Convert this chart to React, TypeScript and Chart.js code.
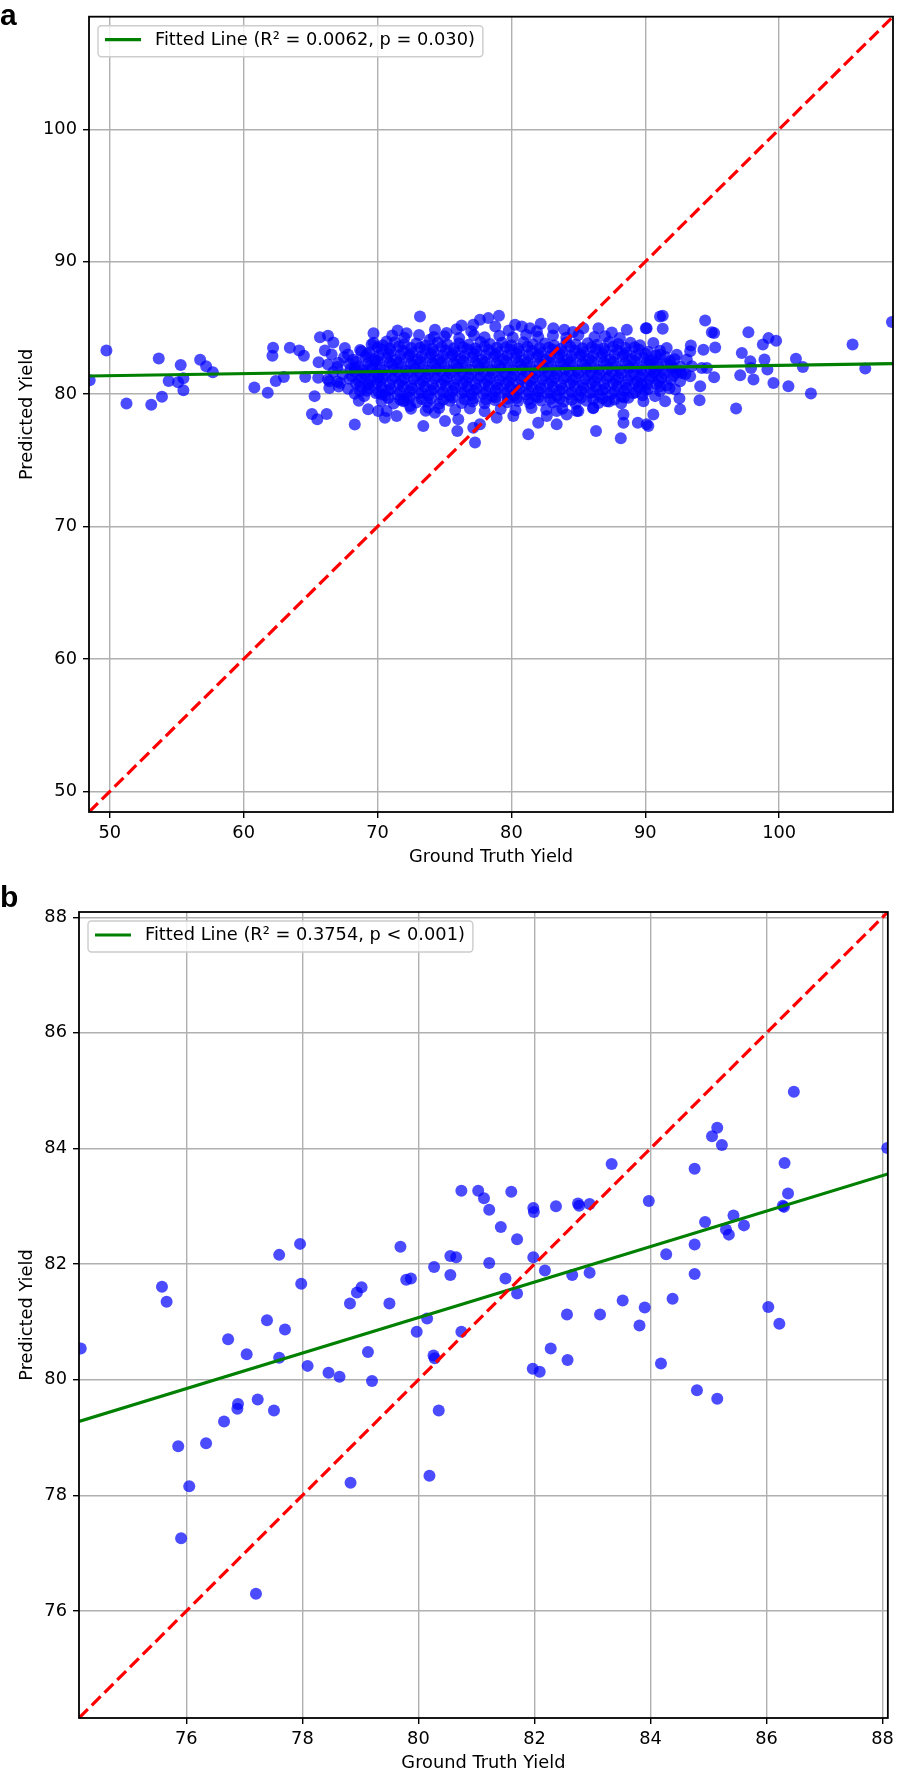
import { useEffect, useRef } from "react";
import { Chart, registerables, Plugin } from "chart.js";

Chart.register(...registerables);

const FONT = '"DejaVu Sans", "Noto Sans", sans-serif';
const FONT_PX = 17.8;

type Pt = [number, number];

// ---------- panel a ----------
const rangeA: [number, number] = [48.45, 108.5];
const ticksA = [50, 60, 70, 80, 90, 100];
const fitA: Pt[] = [[48.45, 81.37], [108.5, 82.31]];
const legendA = "Fitted Line (R² = 0.0062, p = 0.030)";

// sparse points on the left tail
const leftA: Pt[] = [
  [48.5, 81.05], [49.75, 83.3], [51.25, 79.3], [53.66, 82.7], [53.1, 79.2], [53.9, 79.8],
  [54.4, 81.0], [55.3, 82.2], [55.1, 80.9], [55.5, 81.2], [55.5, 80.3], [56.75, 82.6],
  [57.2, 82.1], [57.7, 81.65], [60.8, 80.5], [61.8, 80.1], [62.2, 83.5], [62.15, 82.9],
  [62.4, 81.0], [63.0, 81.3], [63.45, 83.5], [64.15, 83.3], [64.5, 82.9], [64.6, 81.3],
  [65.3, 79.85], [65.1, 78.5], [65.5, 78.1], [66.2, 78.5], [65.7, 84.3], [66.3, 84.4],
  [66.7, 83.9], [65.6, 82.4], [68.3, 77.7], [68.6, 79.5], [69.3, 78.85], [69.7, 84.6],
  [66.07, 83.3], [66.57, 83.0], [67.07, 82.35], [66.4, 80.98], [66.4, 80.47], [67.2, 80.85],
  [67.56, 83.48], [67.8, 83.0], [65.57, 81.23], [68.3, 81.98], [68.8, 83.23], [69.06, 81.48],
  [69.3, 80.73], [69.56, 83.74], [69.8, 82.48], [70.05, 81.23], [68.68, 80.23], [70.3, 79.98],
  [70.55, 78.22], [70.05, 78.72],
];

// the dense middle of the cloud
const coreA: Pt[] = [
  [71.1, 84.42], [72.0, 84.25], [73.1, 84.47], [74.2, 84.31], [75.0, 84.37], [76.1, 84.23],
  [77.2, 84.45], [78.0, 84.29], [79.1, 84.4], [80.1, 84.27], [81.1, 84.49], [82.0, 84.33],
  [83.1, 84.43], [84.1, 84.25], [85.0, 84.47], [86.2, 84.31], [87.0, 84.37], [88.1, 84.23],
  [69.7, 83.88], [70.4, 83.7], [71.3, 83.92], [72.0, 83.76], [72.9, 83.82], [73.6, 83.68],
  [74.5, 83.9], [75.2, 83.74], [76.1, 83.85], [76.8, 83.72], [77.7, 83.94], [78.4, 83.78],
  [79.3, 83.88], [80.0, 83.7], [80.9, 83.92], [81.6, 83.76], [82.5, 83.82], [83.2, 83.68],
  [84.1, 83.9], [84.8, 83.74], [85.7, 83.85], [86.4, 83.72], [87.3, 83.94], [88.0, 83.78],
  [88.9, 83.88], [89.6, 83.7],
  [68.7, 83.33], [69.4, 83.15], [70.3, 83.37], [71.0, 83.21], [71.9, 83.27], [72.6, 83.13],
  [73.5, 83.35], [74.2, 83.19], [75.1, 83.3], [75.8, 83.17], [76.7, 83.39], [77.4, 83.23],
  [78.3, 83.33], [79.0, 83.15], [79.9, 83.37], [80.6, 83.21], [81.5, 83.27], [82.2, 83.13],
  [83.1, 83.35], [83.8, 83.19], [84.7, 83.3], [85.4, 83.17], [86.3, 83.39], [87.0, 83.23],
  [87.9, 83.33], [88.6, 83.15], [89.5, 83.37], [90.2, 83.21], [91.1, 83.27],
  [67.5, 82.78], [68.2, 82.6], [69.1, 82.82], [69.8, 82.66], [70.7, 82.72], [71.4, 82.58],
  [72.3, 82.8], [73.0, 82.64], [73.9, 82.75], [74.6, 82.62], [75.5, 82.84], [76.2, 82.68],
  [77.1, 82.78], [77.8, 82.6], [78.7, 82.82], [79.4, 82.66], [80.3, 82.72], [81.0, 82.58],
  [81.9, 82.8], [82.6, 82.64], [83.5, 82.75], [84.2, 82.62], [85.1, 82.84], [85.8, 82.68],
  [86.7, 82.78], [87.4, 82.6], [88.3, 82.82], [89.0, 82.66], [89.9, 82.72], [90.6, 82.58],
  [91.5, 82.8], [92.2, 82.64],
  [66.3, 82.23], [67.0, 82.05], [67.9, 82.27], [68.6, 82.11], [69.5, 82.17], [70.2, 82.03],
  [71.1, 82.25], [71.8, 82.09], [72.7, 82.2], [73.4, 82.07], [74.3, 82.29], [75.0, 82.13],
  [75.9, 82.23], [76.6, 82.05], [77.5, 82.27], [78.2, 82.11], [79.1, 82.17], [79.8, 82.03],
  [80.7, 82.25], [81.4, 82.09], [82.3, 82.2], [83.0, 82.07], [83.9, 82.29], [84.6, 82.13],
  [85.5, 82.23], [86.2, 82.05], [87.1, 82.27], [87.8, 82.11], [88.7, 82.17], [89.4, 82.03],
  [90.3, 82.25], [91.0, 82.09], [91.9, 82.2], [92.6, 82.07],
  [66.7, 81.68], [67.4, 81.5], [68.3, 81.72], [69.0, 81.56], [69.9, 81.62], [70.6, 81.48],
  [71.5, 81.7], [72.2, 81.54], [73.1, 81.65], [73.8, 81.52], [74.7, 81.74], [75.4, 81.58],
  [76.3, 81.68], [77.0, 81.5], [77.9, 81.72], [78.6, 81.56], [79.5, 81.62], [80.2, 81.48],
  [81.1, 81.7], [81.8, 81.54], [82.7, 81.65], [83.4, 81.52], [84.3, 81.74], [85.0, 81.58],
  [85.9, 81.68], [86.6, 81.5], [87.5, 81.72], [88.2, 81.56], [89.1, 81.62], [89.8, 81.48],
  [90.7, 81.7], [91.4, 81.54], [92.3, 81.65], [93.0, 81.52],
  [66.3, 81.13], [67.0, 80.95], [67.9, 81.17], [68.6, 81.01], [69.5, 81.07], [70.2, 80.93],
  [71.1, 81.15], [71.8, 80.99], [72.7, 81.1], [73.4, 80.97], [74.3, 81.19], [75.0, 81.03],
  [75.9, 81.13], [76.6, 80.95], [77.5, 81.17], [78.2, 81.01], [79.1, 81.07], [79.8, 80.93],
  [80.7, 81.15], [81.4, 80.99], [82.3, 81.1], [83.0, 80.97], [83.9, 81.19], [84.6, 81.03],
  [85.5, 81.13], [86.2, 80.95], [87.1, 81.17], [87.8, 81.01], [88.7, 81.07], [89.4, 80.93],
  [90.3, 81.15], [91.0, 80.99], [91.9, 81.1], [92.6, 80.97],
  [67.1, 80.58], [67.8, 80.4], [68.7, 80.62], [69.4, 80.46], [70.3, 80.52], [71.0, 80.38],
  [71.9, 80.6], [72.6, 80.44], [73.5, 80.55], [74.2, 80.42], [75.1, 80.64], [75.8, 80.48],
  [76.7, 80.58], [77.4, 80.4], [78.3, 80.62], [79.0, 80.46], [79.9, 80.52], [80.6, 80.38],
  [81.5, 80.6], [82.2, 80.44], [83.1, 80.55], [83.8, 80.42], [84.7, 80.64], [85.4, 80.48],
  [86.3, 80.58], [87.0, 80.4], [87.9, 80.62], [88.6, 80.46], [89.5, 80.52], [90.2, 80.38],
  [91.1, 80.6], [91.8, 80.44],
  [68.3, 80.03], [69.0, 79.85], [69.9, 80.07], [70.6, 79.91], [71.5, 79.97], [72.2, 79.83],
  [73.1, 80.05], [73.8, 79.89], [74.7, 80.0], [75.4, 79.87], [76.3, 80.09], [77.0, 79.93],
  [77.9, 80.03], [78.6, 79.85], [79.5, 80.07], [80.2, 79.91], [81.1, 79.97], [81.8, 79.83],
  [82.7, 80.05], [83.4, 79.89], [84.3, 80.0], [85.0, 79.87], [85.9, 80.09], [86.6, 79.93],
  [87.5, 80.03], [88.2, 79.85], [89.1, 80.07], [89.8, 79.91],
  [70.3, 79.48], [71.2, 79.3], [72.0, 79.52], [72.9, 79.36], [73.7, 79.42], [74.6, 79.28],
  [75.4, 79.5], [76.3, 79.34], [77.1, 79.45], [78.0, 79.32], [78.8, 79.54], [79.7, 79.38],
  [80.5, 79.48], [81.4, 79.3], [82.2, 79.52], [83.1, 79.36], [83.9, 79.42], [84.8, 79.28],
  [85.6, 79.5], [86.5, 79.34], [87.3, 79.45], [88.2, 79.32],
  [72.5, 78.9], [73.6, 78.75], [74.6, 78.95], [75.8, 78.8], [76.9, 78.92], [78.0, 78.7],
  [79.2, 78.88], [80.3, 78.78], [81.5, 78.95], [82.6, 78.82], [83.8, 78.9], [85.0, 78.72],
  [86.1, 78.94],
];

// more points packed between the rows above, where the cloud is solid
const coreFillA: Pt[] = [
  [70.0, 83.55], [70.9, 83.45], [71.6, 83.6], [72.5, 83.48], [73.2, 83.52], [74.1, 83.42],
  [74.8, 83.58], [75.7, 83.46], [76.4, 83.54], [77.3, 83.44], [78.0, 83.6], [78.9, 83.5],
  [79.6, 83.55], [80.5, 83.45], [81.2, 83.6], [82.1, 83.48], [82.8, 83.52], [83.7, 83.42],
  [84.4, 83.58], [85.3, 83.46], [86.0, 83.54], [86.9, 83.44], [87.6, 83.6], [88.5, 83.5],
  [89.2, 83.55],
  [69.2, 83.0], [70.1, 82.9], [70.8, 83.05], [71.7, 82.93], [72.4, 82.97], [73.3, 82.87],
  [74.0, 83.03], [74.9, 82.91], [75.6, 82.99], [76.5, 82.89], [77.2, 83.05], [78.1, 82.95],
  [78.8, 83.0], [79.7, 82.9], [80.4, 83.05], [81.3, 82.93], [82.0, 82.97], [82.9, 82.87],
  [83.6, 83.03], [84.5, 82.91], [85.2, 82.99], [86.1, 82.89], [86.8, 83.05], [87.7, 82.95],
  [88.4, 83.0], [89.3, 82.9], [90.0, 83.05], [90.8, 82.93],
  [68.4, 82.45], [69.3, 82.35], [70.0, 82.5], [70.9, 82.38], [71.6, 82.42], [72.5, 82.32],
  [73.2, 82.48], [74.1, 82.36], [74.8, 82.44], [75.7, 82.34], [76.4, 82.5], [77.3, 82.4],
  [78.0, 82.45], [78.9, 82.35], [79.6, 82.5], [80.5, 82.38], [81.2, 82.42], [82.1, 82.32],
  [82.8, 82.48], [83.7, 82.36], [84.4, 82.44], [85.3, 82.34], [86.0, 82.5], [86.9, 82.4],
  [87.6, 82.45], [88.5, 82.35], [89.2, 82.5], [90.1, 82.38], [90.8, 82.42], [91.6, 82.32],
  [68.0, 81.9], [68.9, 81.8], [69.6, 81.95], [70.5, 81.83], [71.2, 81.87], [72.1, 81.77],
  [72.8, 81.93], [73.7, 81.81], [74.4, 81.89], [75.3, 81.79], [76.0, 81.95], [76.9, 81.85],
  [77.6, 81.9], [78.5, 81.8], [79.2, 81.95], [80.1, 81.83], [80.8, 81.87], [81.7, 81.77],
  [82.4, 81.93], [83.3, 81.81], [84.0, 81.89], [84.9, 81.79], [85.6, 81.95], [86.5, 81.85],
  [87.2, 81.9], [88.1, 81.8], [88.8, 81.95], [89.7, 81.83], [90.4, 81.87], [91.3, 81.77],
  [92.0, 81.93],
  [68.1, 81.35], [68.8, 81.25], [69.7, 81.4], [70.4, 81.28], [71.3, 81.32], [72.0, 81.22],
  [72.9, 81.38], [73.6, 81.26], [74.5, 81.34], [75.2, 81.24], [76.1, 81.4], [76.8, 81.3],
  [77.7, 81.35], [78.4, 81.25], [79.3, 81.4], [80.0, 81.28], [80.9, 81.32], [81.6, 81.22],
  [82.5, 81.38], [83.2, 81.26], [84.1, 81.34], [84.8, 81.24], [85.7, 81.4], [86.4, 81.3],
  [87.3, 81.35], [88.0, 81.25], [88.9, 81.4], [89.6, 81.28], [90.5, 81.32], [91.2, 81.22],
  [92.1, 81.38],
  [68.4, 80.8], [69.3, 80.7], [70.0, 80.85], [70.9, 80.73], [71.6, 80.77], [72.5, 80.67],
  [73.2, 80.83], [74.1, 80.71], [74.8, 80.79], [75.7, 80.69], [76.4, 80.85], [77.3, 80.75],
  [78.0, 80.8], [78.9, 80.7], [79.6, 80.85], [80.5, 80.73], [81.2, 80.77], [82.1, 80.67],
  [82.8, 80.83], [83.7, 80.71], [84.4, 80.79], [85.3, 80.69], [86.0, 80.85], [86.9, 80.75],
  [87.6, 80.8], [88.5, 80.7], [89.2, 80.85], [90.1, 80.73], [90.8, 80.77], [91.6, 80.67],
  [69.2, 80.25], [70.1, 80.15], [70.8, 80.3], [71.7, 80.18], [72.4, 80.22], [73.3, 80.12],
  [74.0, 80.28], [74.9, 80.16], [75.6, 80.24], [76.5, 80.14], [77.2, 80.3], [78.1, 80.2],
  [78.8, 80.25], [79.7, 80.15], [80.4, 80.3], [81.3, 80.18], [82.0, 80.22], [82.9, 80.12],
  [83.6, 80.28], [84.5, 80.16], [85.2, 80.24], [86.1, 80.14], [86.8, 80.3], [87.7, 80.2],
  [88.4, 80.25], [89.3, 80.15], [90.0, 80.3],
  [70.8, 79.7], [71.7, 79.6], [72.4, 79.75], [73.3, 79.63], [74.0, 79.67], [74.9, 79.57],
  [75.6, 79.73], [76.5, 79.61], [77.2, 79.69], [78.1, 79.59], [78.8, 79.75], [79.7, 79.65],
  [80.4, 79.7], [81.3, 79.6], [82.0, 79.75], [82.9, 79.63], [83.6, 79.67], [84.5, 79.57],
  [85.2, 79.73], [86.1, 79.61], [86.8, 79.69], [87.7, 79.59], [88.4, 79.75],
];

// ragged upper and lower edge of the cloud
const rimA: Pt[] = [
  [73.17, 85.86], [74.29, 84.86], [75.16, 84.61], [76.28, 85.19], [77.15, 85.24], [77.65, 85.62],
  [78.27, 85.74], [79.07, 85.92], [80.27, 85.24], [80.77, 85.11], [81.39, 84.98], [82.19, 85.32],
  [83.13, 84.98], [83.95, 84.86], [85.37, 84.98], [86.5, 84.98], [88.62, 84.86], [90.1, 84.98],
  [91.1, 85.86], [70.68, 83.98], [72.17, 84.6], [73.9, 84.11], [71.5, 84.8], [75.9, 84.9],
  [78.8, 85.1], [81.9, 84.75], [84.6, 84.7], [87.5, 84.65], [79.8, 84.8], [77.0, 84.75],
  [70.68, 78.72], [71.43, 78.35], [71.92, 79.47], [72.42, 79.1], [73.42, 77.6], [73.79, 78.97],
  [74.29, 78.6], [75.04, 77.97], [76.03, 78.1], [75.96, 77.22], [77.15, 77.47], [77.28, 76.34],
  [77.65, 77.72], [78.9, 78.22], [80.14, 78.35], [81.26, 76.97], [82.0, 77.84], [82.64, 78.35],
  [83.38, 77.72], [83.38, 78.72], [84.13, 78.47], [84.88, 78.72], [86.32, 77.22], [86.12, 78.97],
  [87.12, 79.47], [88.17, 76.67], [88.37, 78.47], [88.37, 77.84], [89.44, 77.84], [90.1, 77.72],
  [88.74, 79.72],
];

// right tail
const rightA: Pt[] = [
  [91.3, 85.92], [90.04, 84.98], [91.3, 84.94], [94.47, 85.56], [94.97, 84.68], [95.14, 84.61],
  [95.22, 83.53], [94.34, 83.36], [93.4, 83.68], [93.35, 83.23], [92.35, 82.98], [91.6, 83.48],
  [90.6, 83.86], [94.6, 81.98], [95.14, 81.28], [94.1, 80.6], [94.05, 79.53], [92.6, 78.85],
  [92.55, 79.68], [91.48, 79.47], [91.1, 80.23], [90.6, 78.47], [90.23, 77.6], [92.23, 80.35],
  [92.72, 81.6], [93.35, 81.35], [92.1, 81.98], [90.6, 81.6], [89.73, 80.73],
  [97.7, 84.68], [97.21, 83.11], [97.09, 81.43], [98.08, 81.1], [97.84, 82.48], [97.9, 81.98],
  [98.78, 83.74], [99.2, 84.23], [99.77, 84.04], [98.9, 82.61], [99.12, 81.86], [99.57, 80.85],
  [100.69, 80.6], [101.25, 82.68], [101.77, 82.05], [102.37, 80.05], [96.78, 78.92],
  [105.48, 83.74], [106.43, 81.93], [108.42, 85.44],
  [90.36, 82.48], [91.1, 82.98], [91.85, 82.48], [92.6, 81.73], [93.1, 82.61], [93.47, 82.1],
  [94.22, 81.98], [90.73, 79.85], [89.86, 79.47],
];

// ---------- panel b ----------
const rangeB: [number, number] = [74.15, 88.09];
const ticksB = [76, 78, 80, 82, 84, 86, 88];
const fitB: Pt[] = [[74.15, 79.28], [88.09, 83.56]];
const legendB = "Fitted Line (R² = 0.3754, p < 0.001)";

const pointsB: Pt[] = [
  [74.18, 80.54], [75.58, 81.61], [75.66, 81.35], [77.6, 82.16], [77.96, 82.35], [77.98, 81.66],
  [76.72, 80.7], [77.04, 80.44], [77.39, 81.03], [77.7, 80.87], [77.6, 80.38], [78.09, 80.24],
  [78.45, 80.12], [78.64, 80.05], [78.82, 81.32], [78.94, 81.51], [79.02, 81.6], [79.13, 80.48],
  [79.2, 79.98], [76.89, 79.58], [76.88, 79.5], [77.23, 79.66], [77.51, 79.47], [76.65, 79.28],
  [76.34, 78.9], [75.86, 78.85], [76.05, 78.16], [78.83, 78.22], [75.91, 77.26], [77.2, 76.3],
  [80.19, 78.34],
  [79.69, 82.3], [79.79, 81.73], [79.87, 81.75], [79.5, 81.32], [80.27, 81.95], [80.55, 81.81],
  [80.55, 82.14], [80.65, 82.12], [80.15, 81.06], [79.97, 80.83], [80.74, 80.83], [80.26, 80.42],
  [80.28, 80.37], [80.35, 79.47], [80.74, 83.27], [81.03, 83.27], [81.13, 83.14], [81.22, 82.94],
  [81.42, 82.64], [81.6, 83.25], [81.7, 82.43], [81.22, 82.02], [81.5, 81.75], [81.7, 81.49],
  [81.98, 82.12], [81.98, 82.97], [81.99, 82.9], [82.18, 81.89], [82.37, 83.0], [82.75, 83.05],
  [82.77, 83.01], [82.95, 83.04], [83.33, 83.73], [82.65, 81.81], [82.95, 81.85], [82.56, 81.13],
  [83.13, 81.13], [83.52, 81.37], [83.9, 81.25], [83.81, 80.94], [82.28, 80.54], [82.57, 80.34],
  [81.97, 80.19], [82.09, 80.14], [83.97, 83.09],
  [86.47, 84.98], [85.15, 84.36], [85.06, 84.21], [85.23, 84.06], [84.76, 83.65], [86.31, 83.75],
  [88.08, 84.01], [86.37, 83.22], [86.28, 83.01], [86.3, 82.99], [84.94, 82.73], [85.43, 82.84],
  [85.61, 82.67], [85.3, 82.6], [85.35, 82.51], [84.76, 82.34], [84.27, 82.17], [84.76, 81.83],
  [84.38, 81.4], [86.03, 81.26], [86.22, 80.97], [84.18, 80.28], [84.8, 79.82], [85.15, 79.67],
];

const xTitle = "Ground Truth Yield";
const yTitle = "Predicted Yield";

// draws the black box round the plot area
const framePlugin: Plugin = {
  id: "frame",
  afterDraw(chart) {
    const { ctx, chartArea: a } = chart;
    ctx.save();
    ctx.strokeStyle = "#000";
    ctx.lineWidth = 1.8;
    ctx.strokeRect(a.left, a.top, a.right - a.left, a.bottom - a.top);
    ctx.restore();
  },
};

// matplotlib-like legend box inside the upper left corner
const boxLegendPlugin: Plugin = {
  id: "boxLegend",
  afterDatasetsDraw(chart) {
    const ds: any = chart.data.datasets.find((d) => d.label);
    if (!ds) return;
    const { ctx, chartArea } = chart;
    ctx.save();
    ctx.font = `${FONT_PX}px ${FONT}`;
    const tw = ctx.measureText(ds.label).width;
    const x = chartArea.left + 9;
    const y = chartArea.top + 9;
    const w = 57 + tw + 8;
    const h = 31;
    ctx.beginPath();
    ctx.roundRect(x, y, w, h, 3.5);
    ctx.fillStyle = "rgba(255,255,255,0.8)";
    ctx.fill();
    ctx.strokeStyle = "#cccccc";
    ctx.lineWidth = 1.4;
    ctx.stroke();
    ctx.beginPath();
    ctx.moveTo(x + 7, y + 14);
    ctx.lineTo(x + 43, y + 14);
    ctx.strokeStyle = ds.borderColor;
    ctx.lineWidth = ds.borderWidth;
    ctx.stroke();
    ctx.fillStyle = "#000";
    ctx.textBaseline = "middle";
    ctx.textAlign = "left";
    ctx.fillText(ds.label, x + 57, y + 14.8);
    ctx.restore();
  },
};

interface PanelProps {
  top: number;
  height: number;
  points: Pt[];
  fit: Pt[];
  range: [number, number];
  ticks: number[];
  legend: string;
  plotLeft: number;
  plotRight: number;
  plotTop: number;
  plotBottom: number;
  xTitlePad: number;
}

function ScatterPanel(p: PanelProps) {
  const canvasRef = useRef<HTMLCanvasElement>(null);
  const chartRef = useRef<Chart | null>(null);

  useEffect(() => {
    if (!canvasRef.current) return;
    if (chartRef.current) chartRef.current.destroy();

    const font = { family: FONT, size: FONT_PX, lineHeight: 1.2 };
    const [lo, hi] = p.range;
    const grid = {
      color: "#b0b0b0",
      lineWidth: 1.4,
      drawTicks: true,
      tickLength: 6,
      tickColor: "#000",
      tickWidth: 1.4,
    };

    chartRef.current = new Chart(canvasRef.current, {
      type: "scatter",
      data: {
        datasets: [
          {
            data: [{ x: lo, y: lo }, { x: hi, y: hi }],
            showLine: true,
            borderColor: "#ff0000",
            borderWidth: 3.2,
            borderDash: [12.5, 5.5],
            pointRadius: 0,
            order: 0,
            clip: 0,
          },
          {
            label: p.legend,
            data: p.fit.map(([x, y]) => ({ x, y })),
            showLine: true,
            borderColor: "#008000",
            borderWidth: 3.2,
            pointRadius: 0,
            order: 1,
            clip: 0,
          },
          {
            data: p.points.map(([x, y]) => ({ x, y })),
            backgroundColor: "rgba(0,0,255,0.7)",
            pointRadius: 6,
            pointBorderWidth: 0,
            order: 2,
            clip: 0,
          },
        ] as any,
      },
      options: {
        responsive: false,
        animation: false,
        events: [],
        layout: {
          padding: {
            left: 0,
            top: p.plotTop,
            right: 899 - p.plotRight,
            bottom: 0,
          },
        },
        plugins: {
          legend: { display: false },
          tooltip: { enabled: false },
        },
        scales: {
          x: {
            type: "linear",
            min: lo,
            max: hi,
            afterBuildTicks: (s: any) => {
              s.ticks = p.ticks.map((v) => ({ value: v }));
            },
            afterFit: (s: any) => {
              s.height = p.height - p.plotBottom;
            },
            grid,
            border: { display: false },
            ticks: { font, color: "#000", padding: 5, maxRotation: 0, autoSkip: false },
            title: {
              display: true,
              text: xTitle,
              font,
              color: "#000",
              padding: { top: 0, bottom: p.xTitlePad },
            },
          },
          y: {
            type: "linear",
            min: lo,
            max: hi,
            afterBuildTicks: (s: any) => {
              s.ticks = p.ticks.map((v) => ({ value: v }));
            },
            afterFit: (s: any) => {
              s.width = p.plotLeft;
            },
            grid,
            border: { display: false },
            ticks: { font, color: "#000", padding: 6, autoSkip: false },
            title: {
              display: true,
              text: yTitle,
              font,
              color: "#000",
              padding: { top: 16.5, bottom: 0 },
            },
          },
        },
      },
      plugins: [boxLegendPlugin, framePlugin],
    });

    return () => {
      if (chartRef.current) {
        chartRef.current.destroy();
        chartRef.current = null;
      }
    };
  }, []);

  return (
    <canvas
      ref={canvasRef}
      width={899}
      height={p.height}
      style={{ position: "absolute", left: 0, top: p.top, width: 899, height: p.height }}
    ></canvas>
  );
}

const panelLabel = (top: number): React.CSSProperties => ({
  position: "absolute",
  left: 0,
  top,
  fontFamily: '"Liberation Sans", Arial, sans-serif',
  fontWeight: "bold",
  fontSize: 30,
  lineHeight: "30px",
  color: "#000",
});

export default function App() {
  return (
    <div
      style={{
        position: "absolute",
        left: 0,
        top: 0,
        width: 899,
        height: 1775,
        overflow: "hidden",
        background: "#fff",
      }}
    >
      <ScatterPanel
        top={0}
        height={880}
        points={[...leftA, ...coreA, ...coreFillA, ...rimA, ...rightA]}
        fit={fitA}
        range={rangeA}
        ticks={ticksA}
        legend={legendA}
        plotLeft={89}
        plotRight={894}
        plotTop={14}
        plotBottom={812}
        xTitlePad={12.1}
      />
      <ScatterPanel
        top={880}
        height={895}
        points={pointsB}
        fit={fitB}
        range={rangeB}
        ticks={ticksB}
        legend={legendB}
        plotLeft={79}
        plotRight={889}
        plotTop={32}
        plotBottom={838}
        xTitlePad={0.6}
      />
      <div style={panelLabel(0)}>a</div>
      <div style={panelLabel(882)}>b</div>
    </div>
  );
}
